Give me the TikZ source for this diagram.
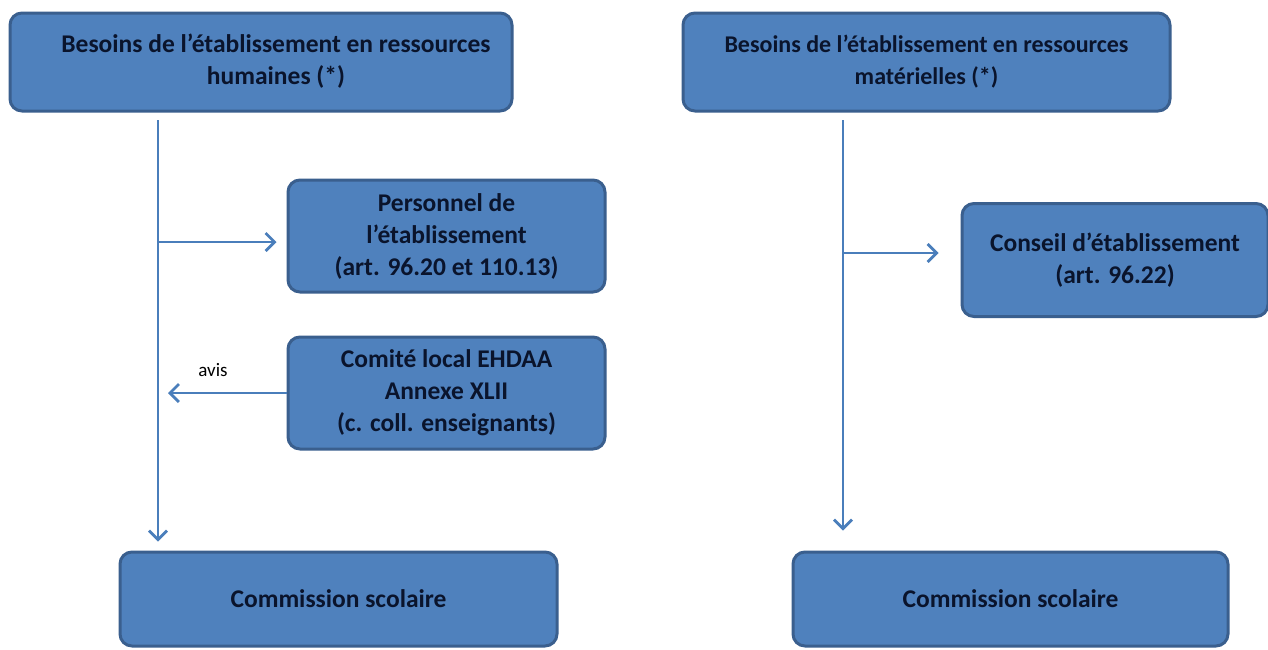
\documentclass[tikz,border=0pt]{standalone}
\usepackage{fontspec}
\setmainfont{Carlito}
\usetikzlibrary{arrows.meta}
\definecolor{boxfill}{HTML}{4F81BD}
\definecolor{boxedge}{HTML}{3A5F8E}
\definecolor{boxtext}{HTML}{0A142C}
\definecolor{arrowcol}{HTML}{4A7EBB}
\tikzset{
  box/.style={draw=boxedge, fill=boxfill, line width=3pt, rounded corners=12pt,
    align=center, text=boxtext, font=\fontsize{25.5}{32}\selectfont\bfseries,
    inner sep=0pt},
  link/.style={draw=arrowcol, line width=2.8pt},
  tip/.style={link, -{Straight Barb[length=9pt,width=18pt,line width=2.8pt]}},
  note/.style={font=\fontsize{19}{24}\selectfont, text=black}
}
\begin{document}
\begin{tikzpicture}[x=1pt,y=-1pt]
\useasboundingbox (0,0) rectangle (1268,649);
\fill[white] (0,0) rectangle (1268,649);

% left column: human resources
\node[box, minimum width=502pt, minimum height=98pt] (bh) at (261,62)
  {\hspace*{30pt}\begin{tabular}{@{}c@{}}Besoins de l’établissement en ressources\\humaines (*)\end{tabular}};
\node[box, minimum width=317pt, minimum height=112pt] (pers) at (446.5,236)
  {Personnel de\\l’établissement\\(art. 96.20 et 110.13)};
\node[box, minimum width=317pt, minimum height=112pt] (com) at (446.5,393)
  {Comité local EHDAA\\Annexe XLII\\(c. coll. enseignants)};
\node[box, minimum width=437pt, minimum height=94pt] (cs1) at (338.5,599)
  {Commission scolaire};

% right column: material resources
\node[box, minimum width=487pt, minimum height=98pt,
      font=\fontsize{24}{32}\selectfont\bfseries] (bm) at (926.5,62)
  {Besoins de l’établissement en ressources\\matérielles (*)};
\node[box, minimum width=306pt, minimum height=113pt] (cons) at (1115,260)
  {Conseil d’établissement\\(art. 96.22)};
\node[box, minimum width=435pt, minimum height=94pt] (cs2) at (1010.5,599)
  {Commission scolaire};

% flow lines
\coordinate (lt) at (158,120);
\coordinate (lb) at (158,242);
\draw[tip, shorten >=9pt] (lt) -- (lt |- cs1.north);
\draw[tip, shorten >=10pt] (lb) -- (lb -| pers.west);
\draw[tip, shorten >=10pt] (com.west) -- (com.west -| lt);
\node[note] (avis) at (213,370) {avis};

\coordinate (rt) at (843,120);
\coordinate (rb) at (843,253);
\draw[tip, shorten >=20pt] (rt) -- (rt |- cs2.north);
\draw[tip, shorten >=22pt] (rb) -- (rb -| cons.west);
\end{tikzpicture}
\end{document}
